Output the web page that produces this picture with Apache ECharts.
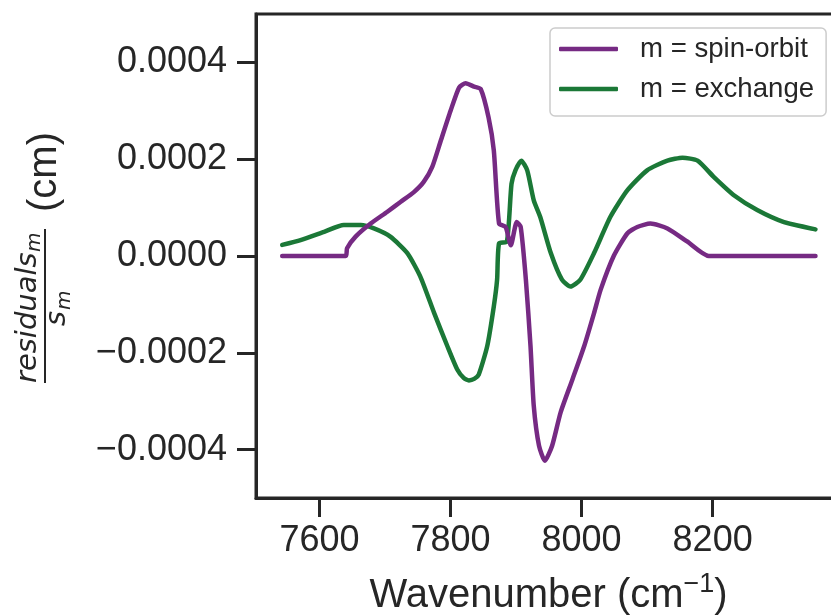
<!DOCTYPE html>
<html>
<head>
<meta charset="utf-8">
<script src="https://cdn.jsdelivr.net/npm/echarts@6/dist/echarts.min.js"></script>
<style>
html,body{margin:0;padding:0;background:#fff;overflow:hidden;}
#chart{width:831px;height:615px;}
</style>
</head>
<body>
<div id="chart"></div>
<script>
// ---- data ----
const seriesNames = ['m = spin-orbit', 'm = exchange'];

const spinX = [7543, 7640, 7642, 7655, 7678, 7703, 7724, 7744, 7759, 7772, 7785, 7800, 7813, 7823, 7836, 7846, 7858, 7866, 7874, 7884, 7892, 7901, 7907, 7915, 7922, 7927, 7935, 7944, 7955, 7968, 7986, 8004, 8019, 8029, 8049, 8070, 8085, 8105, 8131, 8161, 8194, 8357];
const spinY = [0, 0, 0.000016, 0.00004, 0.000067, 0.000091, 0.000112, 0.000132, 0.000153, 0.000184, 0.000238, 0.0003, 0.000348, 0.000357, 0.00035, 0.000345, 0.000286, 0.000218, 0.000067, 0.00006, 0.000022, 0.00007, 0.00006, -0.00005, -0.000186, -0.00031, -0.000392, -0.000423, -0.000392, -0.000323, -0.000255, -0.000186, -0.000118, -0.00007, 0, 0.000047, 0.00006, 0.000067, 0.000057, 0.00003, 0, 0];

const exX = [7543, 7571, 7607, 7637, 7663, 7683, 7708, 7734, 7754, 7775, 7795, 7810, 7820, 7828, 7836, 7843, 7856, 7866, 7871, 7874, 7886, 7893, 7899, 7908, 7917, 7927, 7937, 7953, 7970, 7983, 7998, 8019, 8044, 8070, 8100, 8131, 8154, 8177, 8202, 8233, 8268, 8309, 8357];
const exY = [0.000023, 0.000033, 0.00005, 0.000064, 0.000064, 0.000057, 0.00004, 0.000006, -0.000043, -0.000118, -0.000186, -0.000234, -0.000252, -0.000257, -0.000254, -0.000245, -0.000186, -0.000104, -0.000049, 0.000026, 0.00003, 0.000149, 0.000177, 0.000197, 0.000177, 0.000115, 0.00008, 0.000006, -0.000049, -0.000063, -0.000049, 0.000006, 0.000081, 0.000136, 0.000177, 0.000197, 0.000203, 0.000197, 0.000163, 0.000125, 0.000095, 0.00007, 0.000055];

const xTicks = [7600, 7800, 8000, 8200];
const yTicks = [-0.0004, -0.0002, 0, 0.0002, 0.0004];
const xRange = [7503, 8399];
const yRange = [-0.0005, 0.0005];

// ---- chart ----
const INK = '#262626';
const colors = ['#762a83', '#1b7837'];
const chart = echarts.init(document.getElementById('chart'), null, {renderer: 'canvas'});

function pairs(xs, ys) { return xs.map((x, i) => [x, ys[i]]); }
function fmtY(v) {
  const s = Math.abs(v).toFixed(4);
  return (v < -1e-12 ? '\u2212' : '') + s;
}

const option = {
  backgroundColor: '#fff',
  animation: false,
  color: colors,
  grid: {
    left: 256, width: 587, top: 14, bottom: 117,
    containLabel: false, outerBoundsMode: 'none',
    show: true, borderColor: INK, borderWidth: 3, backgroundColor: 'transparent'
  },
  xAxis: {
    type: 'value',
    min: xRange[0], max: xRange[1],
    axisLine: {show: true, onZero: false, lineStyle: {color: INK, width: 3}},
    axisTick: {show: true, customValues: xTicks, length: 19, lineStyle: {color: INK, width: 3}},
    axisLabel: {customValues: xTicks, margin: 25, color: INK, fontSize: 36,
      fontFamily: 'Liberation Sans, Arial, sans-serif', formatter: v => String(v)},
    splitLine: {show: false}
  },
  yAxis: {
    type: 'value',
    min: yRange[0], max: yRange[1],
    axisLine: {show: true, onZero: false, lineStyle: {color: INK, width: 3}},
    axisTick: {show: true, customValues: yTicks, length: 19, lineStyle: {color: INK, width: 3}},
    axisLabel: {customValues: yTicks, margin: 29, color: INK, fontSize: 36,
      fontFamily: 'Liberation Sans, Arial, sans-serif', formatter: fmtY},
    splitLine: {show: false}
  },
  legend: {
    orient: 'vertical',
    left: 550, top: 28,
    padding: [7, 12, 13, 9],
    itemGap: 12,
    itemWidth: 59, itemHeight: 4.5,
    icon: 'roundRect',
    backgroundColor: '#fff',
    borderColor: '#cccccc', borderWidth: 1.5, borderRadius: 5,
    textStyle: {color: INK, fontSize: 27.6, lineHeight: 28,
      fontFamily: 'Liberation Sans, Arial, sans-serif', padding: [0, 0, 0, 17]},
    data: seriesNames
  },
  series: [
    {
      name: seriesNames[0], type: 'line', data: pairs(spinX, spinY),
      symbol: 'none', smooth: 0.2, z: 3,
      itemStyle: {color: colors[0]},
      lineStyle: {width: 4.5, color: colors[0], cap: 'round', join: 'round'}
    },
    {
      name: seriesNames[1], type: 'line', data: pairs(exX, exY),
      symbol: 'none', smooth: 0.2, z: 2,
      itemStyle: {color: colors[1]},
      lineStyle: {width: 4.5, color: colors[1], cap: 'round', join: 'round'}
    }
  ],
  graphic: [
    {
      type: 'text',
      x: 548.5, y: 596,
      style: {
        text: '{a|Wavenumber (cm}{b|\u22121}{a|)}',
        align: 'center', verticalAlign: 'middle',
        fill: INK,
        rich: {
          a: {fontSize: 40, lineHeight: 50, verticalAlign: 'middle', fill: INK, color: INK,
              fontFamily: 'Liberation Sans, Arial, sans-serif'},
          b: {fontSize: 27, lineHeight: 27, verticalAlign: 'top', fill: INK, color: INK,
              fontFamily: 'Liberation Sans, Arial, sans-serif'}
        }
      }
    },
    {
      type: 'group',
      x: 45, y: 306,
      rotation: Math.PI / 2,
      children: [
        {type: 'line', shape: {x1: -77, y1: 0, x2: 77, y2: 0}, style: {stroke: INK, lineWidth: 2}},
        {type: 'text', x: -77, y: -16.7, style: {text: 'residuals', fontSize: 29, fontStyle: 'italic',
          fontFamily: 'DejaVu Sans, sans-serif', fill: INK, align: 'left', verticalAlign: 'middle'}},
        {type: 'text', x: 54, y: -10, style: {text: 'm', fontSize: 20, fontStyle: 'italic',
          fontFamily: 'DejaVu Sans, sans-serif', fill: INK, align: 'left', verticalAlign: 'middle'}},
        {type: 'text', x: -20, y: 12, style: {text: 's', fontSize: 29, fontStyle: 'italic',
          fontFamily: 'DejaVu Sans, sans-serif', fill: INK, align: 'left', verticalAlign: 'middle'}},
        {type: 'text', x: -4, y: 20, style: {text: 'm', fontSize: 20, fontStyle: 'italic',
          fontFamily: 'DejaVu Sans, sans-serif', fill: INK, align: 'left', verticalAlign: 'middle'}},
        {type: 'text', x: 134, y: 0, style: {text: '(cm)', fontSize: 40,
          fontFamily: 'Liberation Sans, Arial, sans-serif', fill: INK, align: 'center', verticalAlign: 'middle'}}
      ]
    }
  ]
};
chart.setOption(option);
</script>
</body>
</html>
